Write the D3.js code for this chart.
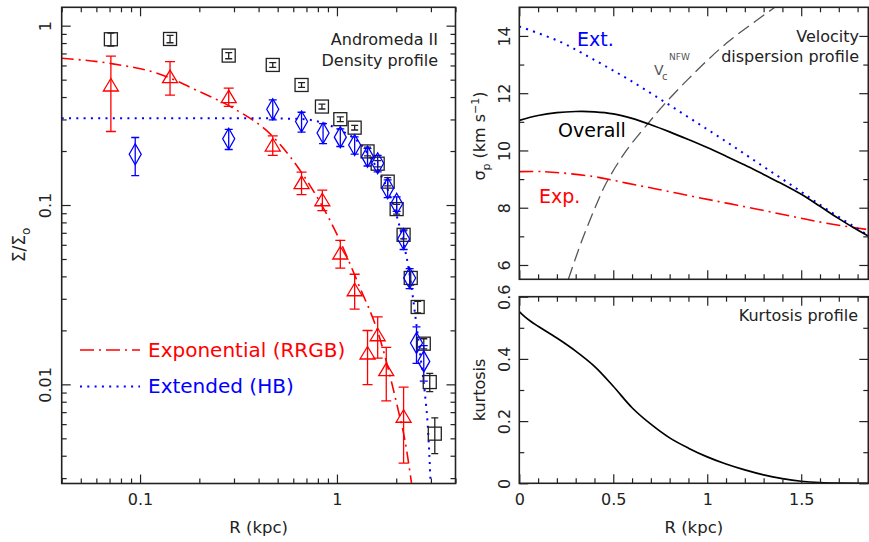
<!DOCTYPE html>
<html><head><meta charset="utf-8">
<script src="https://cdn.jsdelivr.net/npm/d3@7"></script>
<style>
body{margin:0;background:#fff;}
svg text{font-family:"DejaVu Sans",sans-serif;}
</style></head><body>
<script>
// ---------- data ----------
// Left panel: surface density profile
const blackR   = [0.0711,0.142,0.282,0.472,0.661,0.839,1.04,1.23,1.43,1.61,1.81,2.01,2.18,2.37,2.57,2.76,2.96,3.14];
const blackS   = [0.840,0.843,0.681,0.604,0.467,0.354,0.301,0.270,0.199,0.170,0.135,0.0949,0.0682,0.0392,0.0270,0.01686,0.0103,0.00531];
const blackErr = [0.07,0.04,0.027,0.018,0.014,0.011,0.009,0.008,0.011,0.007,0.007,0.006,0.0035,0.0034,0.002,0.0011,0.0012,0.0012];

const redR   = [0.0711,0.142,0.282,0.472,0.661,0.843,1.04,1.23,1.43,1.61,1.78,2.18];
const redS   = [0.467,0.52,0.402,0.216,0.1334,0.107,0.054,0.0337,0.01496,0.0189,0.01208,0.00664];
const redErr = [0.21,0.11,0.047,0.027,0.019,0.014,0.0095,0.0074,0.005,0.0049,0.004,0.003];

const blueR   = [0.0945,0.282,0.472,0.661,0.85,1.04,1.23,1.43,1.61,1.81,2.01,2.18,2.34,2.535,2.76];
const blueS   = [0.192,0.234,0.342,0.292,0.252,0.239,0.216,0.186,0.171,0.124,0.1016,0.0646,0.0392,0.0170,0.01343];
const blueErr = [0.046,0.03,0.044,0.037,0.032,0.027,0.024,0.021,0.018,0.014,0.0095,0.0081,0.005,0.0039,0.003];

const expFitR = [0.04,0.0697,0.1252,0.2,0.2956,0.472,0.726,0.993,1.279,1.649,2.044,2.211,2.391];
const expFitS = [0.658,0.617,0.538,0.429,0.348,0.241,0.1296,0.0697,0.0367,0.01813,0.00723,0.00492,0.00282];
const extFitR = [0.04,0.3,0.646,0.883,1.073,1.305,1.467,1.649,1.854,2.037,2.185,2.317,2.428,2.515,2.636,2.795,2.905,2.987];
const extFitS = [0.305,0.305,0.302,0.283,0.2567,0.221,0.1863,0.1506,0.114,0.0827,0.0608,0.0436,0.0308,0.0229,0.0152,0.00895,0.00545,0.00288];

// Right top: velocity dispersion profile
const overallR = [0,0.1,0.2,0.3,0.4,0.5,0.6,0.7,0.8,0.9,1.0,1.1,1.2,1.3,1.4,1.5,1.6,1.7,1.8,1.86];
const overallV = [11.05,11.22,11.32,11.36,11.35,11.28,11.12,10.90,10.65,10.38,10.10,9.80,9.49,9.16,8.83,8.47,8.05,7.62,7.22,7.0];
const extR = [0,0.216,0.394,0.571,0.748,0.926,1.103,1.28,1.457,1.635,1.86];
const extV = [14.33,13.80,13.18,12.52,11.80,11.05,10.30,9.52,8.75,7.95,7.02];
const expR = [0,0.128,0.394,0.571,0.748,0.926,1.103,1.28,1.457,1.635,1.86];
const expV = [9.26,9.26,9.09,8.86,8.63,8.39,8.16,7.93,7.69,7.46,7.23];
const nfwR = [0.261,0.33,0.40,0.464,0.57,0.686,0.763,0.9,1.103,1.36];
const nfwV = [5.5,6.8,7.95,8.88,10.0,10.95,11.55,12.5,13.75,15.0];

// Right bottom: kurtosis profile
const kurtR = [0,0.03,0.06,0.1,0.2,0.3,0.4,0.5,0.6,0.7,0.8,0.9,1.0,1.1,1.2,1.3,1.4,1.5,1.6,1.7,1.86];
const kurtK = [0.552,0.535,0.521,0.505,0.467,0.425,0.376,0.312,0.243,0.190,0.146,0.113,0.085,0.062,0.043,0.027,0.015,0.0065,0.002,0.0003,0.0];

// Tick values / labels
const leftXMajor = [0.1,1], leftXLabels = ["0.1","1"];
const leftXMinor = [0.04,0.05,0.06,0.07,0.08,0.09,0.2,0.3,0.4,0.5,0.6,0.7,0.8,0.9,2,3,4];
const leftYMajor = [0.01,0.1,1], leftYLabels = ["0.01","0.1","1"];
const leftYMinor = [0.003,0.004,0.005,0.006,0.007,0.008,0.009,0.02,0.03,0.04,0.05,0.06,0.07,0.08,0.09,0.2,0.3,0.4,0.5,0.6,0.7,0.8,0.9];
const rightXMajor = [0,0.5,1,1.5], rightXLabels = ["0","0.5","1","1.5"];
const rightXMinor = [0.1,0.2,0.3,0.4,0.6,0.7,0.8,0.9,1.1,1.2,1.3,1.4,1.6,1.7,1.8];
const velMajor = [6,8,10,12,14], velLabels = ["6","8","10","12","14"];
const velMinor = [7,9,11,13];
const kurtMajor = [0,0.2,0.4,0.6], kurtLabels = ["0","0.2","0.4","0.6"];
const kurtMinor = [0.1,0.3,0.5];

// ---------- drawing ----------
const W = 869, H = 542, ink = "#222";
const svg = d3.select("body").append("svg").attr("width", W).attr("height", H);
svg.append("rect").attr("width", W).attr("height", H).attr("fill", "#fff");

const L  = {x0:61.7, x1:455.5, y0:7.3, y1:483.5};
const RT = {x0:519.3, x1:868.3, y0:7.3, y1:279.3};
const RB = {x0:519.3, x1:868.3, y0:296.7, y1:483.3};

const xL = d3.scaleLog().domain([0.04, 4]).range([L.x0, L.x1]);
const yL = d3.scaleLog().domain([0.0028, 1.266]).range([L.y1, L.y0]);
const xR = d3.scaleLinear().domain([0, 1.857]).range([RT.x0, RT.x1]);
const yV = d3.scaleLinear().domain([5.5, 15]).range([RT.y1, RT.y0]);
const yK = d3.scaleLinear().domain([0, 0.6]).range([RB.y1, RB.y0]);

const defs = svg.append("defs");
function clip(id, P){
  defs.append("clipPath").attr("id", id).append("rect")
    .attr("x", P.x0).attr("y", P.y0).attr("width", P.x1 - P.x0).attr("height", P.y1 - P.y0);
  return svg.append("g").attr("clip-path", `url(#${id})`);
}

function ticks(axisGen, transform, vals, len){
  const g = svg.append("g").attr("transform", transform)
    .call(axisGen.tickValues(vals).tickSize(-len).tickFormat(""));
  g.select(".domain").remove();
  g.selectAll("line").attr("stroke", ink).attr("stroke-width", 1.2);
}
function panelTicks(P, xs, ys, xMaj, xMin, yMaj, yMin){
  ticks(d3.axisBottom(xs), `translate(0,${P.y1})`, xMaj, 9);
  ticks(d3.axisBottom(xs), `translate(0,${P.y1})`, xMin, 5);
  ticks(d3.axisTop(xs), `translate(0,${P.y0})`, xMaj, 9);
  ticks(d3.axisTop(xs), `translate(0,${P.y0})`, xMin, 5);
  ticks(d3.axisLeft(ys), `translate(${P.x0},0)`, yMaj, 9);
  ticks(d3.axisLeft(ys), `translate(${P.x0},0)`, yMin, 5);
  ticks(d3.axisRight(ys), `translate(${P.x1},0)`, yMaj, 9);
  ticks(d3.axisRight(ys), `translate(${P.x1},0)`, yMin, 5);
}
function bottomLabels(xs, vals, labs, y){
  const g = svg.append("g").attr("transform", `translate(0,${y})`)
    .call(d3.axisBottom(xs).tickValues(vals).tickSize(0).tickPadding(10.5).tickFormat((d,i)=>labs[i]));
  g.select(".domain").remove();
  g.selectAll("text").attr("font-size", 16).attr("fill", ink)
    .attr("font-family", "Liberation Sans, Arial, sans-serif");
}
function leftLabels(ys, vals, labs, x, off){
  const g = svg.append("g").attr("transform", `translate(${x},0)`)
    .call(d3.axisLeft(ys).tickValues(vals).tickSize(0).tickFormat((d,i)=>labs[i]));
  g.select(".domain").remove();
  g.selectAll("text").attr("x", null).attr("dy", null)
    .attr("text-anchor", "middle").attr("transform", `translate(${-off},0) rotate(-90)`)
    .attr("font-size", 16).attr("fill", ink)
    .attr("font-family", "Liberation Sans, Arial, sans-serif");
}
function frame(P){
  svg.append("rect").attr("x", P.x0).attr("y", P.y0).attr("width", P.x1 - P.x0).attr("height", P.y1 - P.y0)
    .attr("fill", "none").attr("stroke", ink).attr("stroke-width", 1.6);
}

// ===== Left panel =====
const gL = clip("clipL", L);
const lineL = d3.line().x(d => xL(d[0])).y(d => yL(d[1])).curve(d3.curveMonotoneX);
gL.append("path").datum(d3.zip(expFitR, expFitS)).attr("d", lineL)
  .attr("fill", "none").attr("stroke", "#ff0000").attr("stroke-width", 1.6).attr("stroke-dasharray", "12,5,2,5");
gL.append("path").datum(d3.zip(extFitR, extFitS)).attr("d", lineL)
  .attr("fill", "none").attr("stroke", "#0000ff").attr("stroke-width", 2).attr("stroke-dasharray", "2,5.3");

function errBars(g, R, S, E, color, cap){
  const d = d3.zip(R, S, E);
  const lo = e => yL(Math.max(e[1] - e[2], 1e-4)), hi = e => yL(e[1] + e[2]);
  const gg = g.append("g").attr("stroke", color).attr("stroke-width", 1.3).attr("fill", "none");
  gg.selectAll("line.v").data(d).join("line").attr("class","v")
    .attr("x1", e => xL(e[0])).attr("x2", e => xL(e[0])).attr("y1", hi).attr("y2", lo);
  gg.selectAll("line.t").data(d).join("line").attr("class","t")
    .attr("x1", e => xL(e[0]) - cap/2).attr("x2", e => xL(e[0]) + cap/2).attr("y1", hi).attr("y2", hi);
  gg.selectAll("line.b").data(d).join("line").attr("class","b")
    .attr("x1", e => xL(e[0]) - cap/2).attr("x2", e => xL(e[0]) + cap/2).attr("y1", lo).attr("y2", lo);
}
errBars(gL, blackR, blackS, blackErr, ink, 7);
errBars(gL, redR, redS, redErr, "#ff0000", 10);
errBars(gL, blueR, blueS, blueErr, "#0000ff", 8);

gL.append("g").selectAll("rect").data(d3.zip(blackR, blackS)).join("rect")
  .attr("x", d => xL(d[0]) - 6.5).attr("y", d => yL(d[1]) - 6.5).attr("width", 13).attr("height", 13)
  .attr("fill", "none").attr("stroke", ink).attr("stroke-width", 1.3);
gL.append("g").selectAll("path").data(d3.zip(redR, redS)).join("path")
  .attr("d", d => { const x = xL(d[0]), y = yL(d[1]); return `M${x},${y-6.5}L${x+7.5},${y+6}L${x-7.5},${y+6}Z`; })
  .attr("fill", "none").attr("stroke", "#ff0000").attr("stroke-width", 1.3);
gL.append("g").selectAll("path").data(d3.zip(blueR, blueS)).join("path")
  .attr("d", d => { const x = xL(d[0]), y = yL(d[1]); return `M${x},${y-10.5}L${x+6},${y}L${x},${y+10.5}L${x-6},${y}Z`; })
  .attr("fill", "none").attr("stroke", "#0000ff").attr("stroke-width", 1.3);

panelTicks(L, xL, yL, leftXMajor, leftXMinor, leftYMajor, leftYMinor);
frame(L);
bottomLabels(xL, leftXMajor, leftXLabels, L.y1);
leftLabels(yL, leftYMajor, leftYLabels, L.x0, 11);

// legend
svg.append("line").attr("x1", 80).attr("x2", 140).attr("y1", 350).attr("y2", 350)
  .attr("stroke", "#ff0000").attr("stroke-width", 1.6).attr("stroke-dasharray", "14,5,2,5");
svg.append("line").attr("x1", 80).attr("x2", 140).attr("y1", 386.5).attr("y2", 386.5)
  .attr("stroke", "#0000ff").attr("stroke-width", 2).attr("stroke-dasharray", "2,5.3");
svg.append("text").attr("x", 148).attr("y", 357).attr("font-size", 20).attr("fill", "#ff0000").text("Exponential (RRGB)");
svg.append("text").attr("x", 148).attr("y", 393).attr("font-size", 20).attr("fill", "#0000ff").text("Extended (HB)");
svg.append("text").attr("x", 438).attr("y", 45).attr("font-size", 16).attr("text-anchor", "end").attr("fill", ink).text("Andromeda II");
svg.append("text").attr("x", 438).attr("y", 66).attr("font-size", 16).attr("text-anchor", "end").attr("fill", ink).text("Density profile");

// axis titles left
const tS = svg.append("text").attr("transform", "translate(25,245) rotate(-90)").attr("text-anchor", "middle")
  .attr("font-size", 17).attr("fill", ink);
tS.append("tspan").text("Σ/Σ");
tS.append("tspan").attr("font-size", 12).attr("dy", 5).text("o");
svg.append("text").attr("x", (L.x0 + L.x1)/2).attr("y", 533).attr("text-anchor", "middle")
  .attr("font-size", 16.5).attr("fill", ink).text("R (kpc)");

// ===== Right top panel =====
const gRT = clip("clipRT", RT);
const lineV = d3.line().x(d => xR(d[0])).y(d => yV(d[1])).curve(d3.curveCatmullRom);
gRT.append("path").datum(d3.zip(nfwR, nfwV)).attr("d", lineV)
  .attr("fill", "none").attr("stroke", "#555").attr("stroke-width", 1.3).attr("stroke-dasharray", "13,6");
gRT.append("path").datum(d3.zip(expR, expV)).attr("d", lineV)
  .attr("fill", "none").attr("stroke", "#ff0000").attr("stroke-width", 1.6).attr("stroke-dasharray", "14,5,2,5");
gRT.append("path").datum(d3.zip(extR, extV)).attr("d", lineV)
  .attr("fill", "none").attr("stroke", "#0000ff").attr("stroke-width", 2).attr("stroke-dasharray", "2,5.3");
gRT.append("path").datum(d3.zip(overallR, overallV)).attr("d", lineV)
  .attr("fill", "none").attr("stroke", "#000").attr("stroke-width", 1.7);

panelTicks(RT, xR, yV, rightXMajor, rightXMinor, velMajor, velMinor);
frame(RT);
leftLabels(yV, velMajor, velLabels, RT.x0, 9);

svg.append("text").attr("x", 577).attr("y", 46).attr("font-size", 19).attr("fill", "#0000ff").text("Ext.");
svg.append("text").attr("x", 558).attr("y", 137).attr("font-size", 19).attr("fill", "#000").text("Overall");
svg.append("text").attr("x", 539).attr("y", 203).attr("font-size", 19).attr("fill", "#ff0000").text("Exp.");
svg.append("text").attr("x", 859).attr("y", 42).attr("font-size", 16).attr("text-anchor", "end").attr("fill", ink).text("Velocity");
svg.append("text").attr("x", 859).attr("y", 62).attr("font-size", 16).attr("text-anchor", "end").attr("fill", ink).text("dispersion profile");
const tV = svg.append("text").attr("fill", "#555");
tV.append("tspan").attr("x", 654).attr("y", 75).attr("font-size", 14).text("V");
tV.append("tspan").attr("x", 662).attr("y", 80).attr("font-size", 10).text("c");
tV.append("tspan").attr("x", 669).attr("y", 60).attr("font-size", 9).text("NFW");

const tSig = svg.append("text").attr("transform", "translate(485,136) rotate(-90)").attr("text-anchor", "middle")
  .attr("font-size", 16).attr("fill", ink);
tSig.append("tspan").text("σ");
tSig.append("tspan").attr("font-size", 11).attr("dy", 5).text("p");
tSig.append("tspan").attr("dy", -5).text(" (km s");
tSig.append("tspan").attr("font-size", 11).attr("dy", -6).text("−1");
tSig.append("tspan").attr("dy", 6).text(")");

// ===== Right bottom panel =====
const gRB = clip("clipRB", RB);
const lineK = d3.line().x(d => xR(d[0])).y(d => yK(d[1])).curve(d3.curveCatmullRom);
gRB.append("path").datum(d3.zip(kurtR, kurtK)).attr("d", lineK)
  .attr("fill", "none").attr("stroke", "#000").attr("stroke-width", 1.7);

panelTicks(RB, xR, yK, rightXMajor, rightXMinor, kurtMajor, kurtMinor);
frame(RB);
leftLabels(yK, kurtMajor, kurtLabels, RB.x0, 9);
bottomLabels(xR, rightXMajor, rightXLabels, RB.y1);

svg.append("text").attr("x", 858).attr("y", 321).attr("font-size", 16).attr("text-anchor", "end").attr("fill", ink).text("Kurtosis profile");
svg.append("text").attr("transform", "translate(485,390) rotate(-90)").attr("text-anchor", "middle")
  .attr("font-size", 16).attr("fill", ink).text("kurtosis");
svg.append("text").attr("x", (RB.x0 + RB.x1)/2).attr("y", 533).attr("text-anchor", "middle")
  .attr("font-size", 16.5).attr("fill", ink).text("R (kpc)");
</script></body></html>
